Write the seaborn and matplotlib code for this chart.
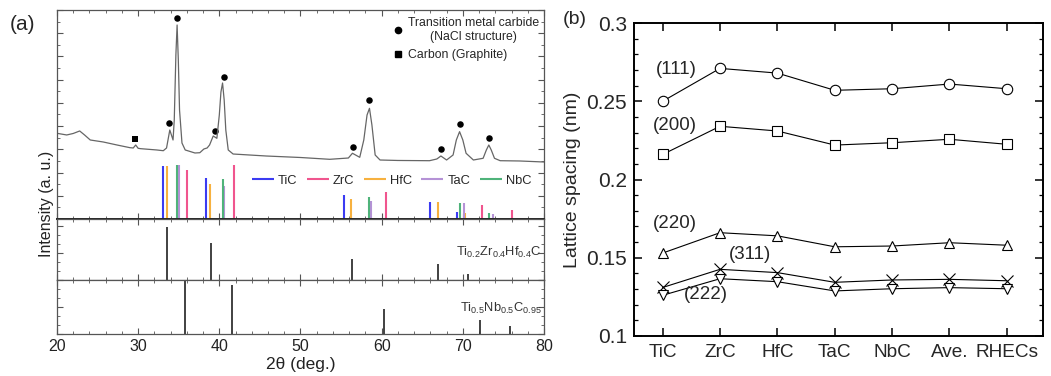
import seaborn as sns
import matplotlib
matplotlib.use("Agg")
from matplotlib import pyplot as plt
from matplotlib.lines import Line2D
from matplotlib.ticker import MultipleLocator, FuncFormatter, NullFormatter

# ---- panel (a): XRD pattern ----
two_theta = [20.0, 21.2, 22.0, 22.8, 23.4, 24.1, 25.7, 27.4, 29.0, 29.4, 29.7, 30.0,
             30.3, 32.3, 33.1, 33.5, 33.9, 34.3, 34.45, 34.65, 34.8, 34.95, 35.1, 35.4,
             35.8, 37.0, 37.6, 38.1, 38.5, 38.8, 39.25, 39.7, 40.0, 40.2, 40.4, 40.6,
             40.8, 41.1, 41.7, 45.8, 50.0, 53.6, 55.9, 56.4, 57.3, 57.8, 58.2, 58.5,
             58.8, 59.2, 59.8, 62.0, 65.9, 66.8, 67.3, 68.0, 68.8, 69.2, 69.6, 70.0,
             70.4, 71.3, 72.5, 72.9, 73.2, 73.5, 73.9, 74.6, 77.0, 80.0]
intensity = [1845, 1809, 1841, 1895, 1809, 1701, 1658, 1593, 1535, 1529, 1593, 1522,
             1514, 1486, 1470, 1529, 1916, 1701, 2131, 3531, 4177, 3423, 2347, 1636,
             1486, 1421, 1427, 1507, 1529, 1593, 1787, 1737, 2239, 2734, 2928, 2562,
             1916, 1486, 1399, 1356, 1324, 1285, 1313, 1415, 1328, 1701, 2239, 2383,
             2024, 1378, 1270, 1260, 1255, 1292, 1356, 1270, 1378, 1701, 1880, 1701,
             1415, 1270, 1307, 1486, 1593, 1486, 1307, 1255, 1249, 1227]

carbide_peak_x = [33.8, 34.8, 39.45, 40.55, 56.5, 58.4, 67.3, 69.6, 73.2]
carbide_peak_y = [2060, 4321, 1901, 3064, 1544, 2562, 1501, 2039, 1737]
graphite_peak_x = [29.65]
graphite_peak_y = [1716]

# reference sticks (position, height) as drawn
ref_names = ["TiC", "ZrC", "HfC", "TaC", "NbC"]
ref_colors = ["#3b3bf2", "#f0558e", "#f7b13f", "#b592d6", "#4fb37a"]
ref_pos = {
    "TiC": [33.1, 38.4, 55.3, 66.0, 69.3],
    "ZrC": [36.0, 41.8, 60.5, 72.4, 76.1],
    "HfC": [33.5, 38.9, 56.2, 66.9, 70.3],
    "TaC": [35.0, 40.6, 58.7, 70.1, 73.7],
    "NbC": [34.8, 40.4, 58.4, 69.7, 73.2],
}
ref_height = {
    "TiC": [1141, 883, 517, 366, 151],
    "ZrC": [1055, 1163, 581, 301, 194],
    "HfC": [1141, 754, 431, 366, 129],
    "TaC": [1163, 710, 388, 344, 108],
    "NbC": [1163, 861, 474, 344, 129],
}

tzh_pos = [33.6, 39.0, 56.3, 67.0, 70.6]
tzh_height = [98, 69, 39, 30, 11]
tn_pos = [35.8, 41.6, 60.3, 72.1, 75.8]
tn_height = [100, 90, 46, 26, 14]

# ---- panel (b): lattice spacing ----
carbides = ["TiC", "ZrC", "HfC", "TaC", "NbC", "Ave.", "RHECs"]
d111 = [0.250, 0.271, 0.268, 0.257, 0.258, 0.261, 0.258]
d200 = [0.216, 0.234, 0.231, 0.222, 0.2235, 0.2257, 0.2225]
d220 = [0.153, 0.166, 0.164, 0.157, 0.1575, 0.1596, 0.158]
d311 = [0.131, 0.1426, 0.1405, 0.1343, 0.1358, 0.1362, 0.1353]
d222 = [0.126, 0.1366, 0.1347, 0.1288, 0.1302, 0.1309, 0.1302]

sns.set_theme(style="ticks")
plt.rcParams['font.family'] = ['Liberation Sans', 'DejaVu Sans']
plt.rcParams['mathtext.default'] = 'regular'

fig = plt.figure(figsize=(10.51, 3.76), dpi=100)
ax_top = fig.add_axes([0.0542, 0.4176, 0.4634, 0.5558])
ax_mid = fig.add_axes([0.0542, 0.2553, 0.4634, 0.1623])
ax_bot = fig.add_axes([0.0542, 0.1117, 0.4634, 0.1436])
ax_b = fig.add_axes([0.6032, 0.1064, 0.3892, 0.8324])

frame_c = "#555555"
for ax in (ax_top, ax_mid, ax_bot):
    ax.set_xlim(20, 80)
    ax.xaxis.set_major_locator(MultipleLocator(10))
    ax.xaxis.set_minor_locator(MultipleLocator(2))
    ax.tick_params(which='both', direction='in', top=True, right=True,
                   color=frame_c, labelleft=False, labelbottom=False)
    ax.tick_params(which='major', length=4, width=0.8)
    ax.tick_params(which='minor', length=2, width=0.6)
    for s in ax.spines.values():
        s.set_color(frame_c)
        s.set_linewidth(0.9)
    ax.set_ylabel("")
    ax.set_xlabel("")

# XRD curve
sns.lineplot(x=two_theta, y=intensity, ax=ax_top, color="#666666", lw=0.9, sort=False)
sns.scatterplot(x=carbide_peak_x, y=carbide_peak_y, ax=ax_top, marker='o', s=22,
                color='black', linewidth=0)
sns.scatterplot(x=graphite_peak_x, y=graphite_peak_y, ax=ax_top, marker='s', s=24,
                color='black', linewidth=0)
for name, col in zip(ref_names, ref_colors):
    ax_top.vlines(ref_pos[name], 0, ref_height[name], color=col, lw=1.5, label=name)
ax_top.set_ylim(0, 4500)
ax_top.yaxis.set_major_locator(MultipleLocator(500))
ax_top.yaxis.set_minor_locator(MultipleLocator(250))
ax_top.spines['bottom'].set_color("#222222")
ax_top.spines['bottom'].set_linewidth(1.4)

leg1 = ax_top.legend(loc='center left', bbox_to_anchor=(0.40, 0.183), ncol=5,
                     frameon=False, fontsize=9.3, handlelength=1.7, handletextpad=0.3,
                     columnspacing=0.75, borderpad=0, borderaxespad=0)
ax_top.add_artist(leg1)
mk_handles = [Line2D([], [], ls='none', marker='o', ms=4.5, color='black'),
              Line2D([], [], ls='none', marker='s', ms=4.5, color='black')]
leg2 = ax_top.legend(mk_handles, ["Transition metal carbide\n(NaCl structure)",
                                  "Carbon (Graphite)"],
                     loc='upper left', bbox_to_anchor=(0.69, 0.965), frameon=False,
                     fontsize=8.8, handlelength=0.8, handletextpad=0.4,
                     labelspacing=0.5, borderpad=0, borderaxespad=0)
for t in leg2.get_texts():
    t.set_multialignment('center')

# Ti0.2Zr0.4Hf0.4C
ax_mid.vlines(tzh_pos, 0, tzh_height, color="#333333", lw=1.3)
ax_mid.set_ylim(0, 113)
ax_mid.yaxis.set_major_locator(MultipleLocator(50))
ax_mid.yaxis.set_minor_locator(MultipleLocator(50 / 3))
ax_mid.text(0.995, 0.45, r"Ti$_{0.2}$Zr$_{0.4}$Hf$_{0.4}$C", transform=ax_mid.transAxes,
            ha='right', va='center', fontsize=9.3, color="#333333")

# Ti0.5Nb0.5C0.95
ax_bot.vlines(tn_pos, 0, tn_height, color="#333333", lw=1.3)
ax_bot.set_ylim(0, 100)
ax_bot.yaxis.set_major_locator(MultipleLocator(50))
ax_bot.yaxis.set_minor_locator(MultipleLocator(50 / 3))
ax_bot.text(0.995, 0.48, r"Ti$_{0.5}$Nb$_{0.5}$C$_{0.95}$", transform=ax_bot.transAxes,
            ha='right', va='center', fontsize=9.3, color="#333333")
ax_bot.tick_params(labelbottom=True, labelsize=11.5, labelcolor="#222222")
ax_bot.set_xlabel("2θ (deg.)", fontsize=12.5, labelpad=2, color="#222222")

fig.text(0.044, 0.4575, "Intensity (a. u.)", rotation=90, ha='center', va='center',
         fontsize=11.5, color="#222222")
fig.text(0.0095, 0.934, "(a)", ha='left', va='center', fontsize=15)

# ---- panel (b) ----
series = [(d111, 'o'), (d200, 's'), (d220, '^'), (d311, 'x'), (d222, 'v')]
for vals, mk in series:
    sns.lineplot(x=carbides, y=vals, ax=ax_b, color='black', lw=0.8, sort=False,
                 marker=mk, markersize=7.5 if mk != 'x' else 8.5,
                 markerfacecolor='white', markeredgecolor='black', markeredgewidth=0.8)
ax_b.set_xlim(-0.5, 6.63)
ax_b.set_ylim(0.1, 0.3)
ax_b.yaxis.set_major_locator(MultipleLocator(0.05))
ax_b.yaxis.set_minor_locator(MultipleLocator(0.01))
ax_b.yaxis.set_major_formatter(FuncFormatter(lambda v, p: "%g" % round(v, 3)))
ax_b.tick_params(which='both', direction='in', top=True, right=True, color='black')
ax_b.tick_params(which='major', length=5.5, width=1.1)
ax_b.tick_params(which='minor', length=3, width=0.9)
ax_b.tick_params(axis='y', labelsize=15, pad=5)
ax_b.tick_params(axis='x', labelsize=13.7, pad=6)
for s in ax_b.spines.values():
    s.set_color('black')
    s.set_linewidth(1.4)
ax_b.set_ylabel("Lattice spacing (nm)", fontsize=14, labelpad=4)
ax_b.set_xlabel("")

ax_b.text(0.24, 0.2705, "(111)", ha='center', va='center', fontsize=13.5)
ax_b.text(0.21, 0.2342, "(200)", ha='center', va='center', fontsize=13.5)
ax_b.text(0.21, 0.1722, "(220)", ha='center', va='center', fontsize=13.5)
ax_b.text(1.53, 0.1518, "(311)", ha='center', va='center', fontsize=13.5)
ax_b.text(0.76, 0.1262, "(222)", ha='center', va='center', fontsize=13.5)
fig.text(0.5355, 0.947, "(b)", ha='left', va='center', fontsize=14)

fig.savefig("out.png", dpi=100)
